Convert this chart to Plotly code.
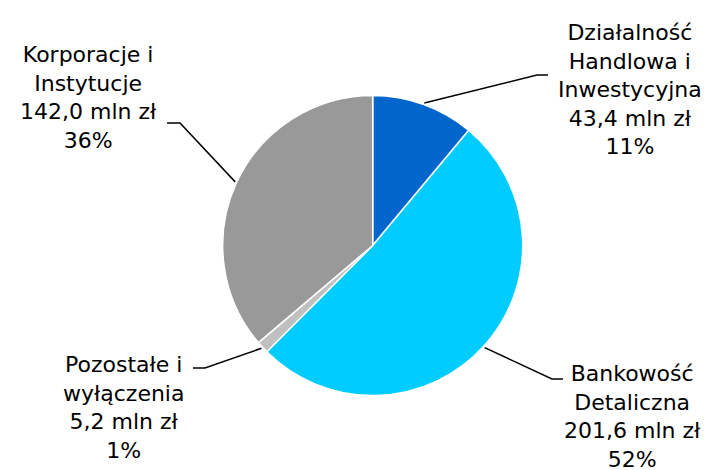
import numpy as np
import plotly.graph_objects as go

# Segment data (mln zł), shown as in the source report
segments = ['Działalność<br>Handlowa i<br>Inwestycyjna', 'Bankowość<br>Detaliczna',
            'Pozostałe i<br>wyłączenia', 'Korporacje i<br>Instytucje']
values = [43.4, 201.6, 5.2, 142.0]
value_labels = ['43,4 mln zł', '201,6 mln zł', '5,2 mln zł', '142,0 mln zł']
pct_labels = ['11%', '52%', '1%', '36%']
colors = ['#0066CC', '#00CCFF', '#C0C0C0', '#999999']

W, H = 711, 470
# pie placement in pixels (centre, radius)
cx, cy, R = 372.7, 245.5, 150

fig = go.Figure(go.Pie(
    labels=[s.replace('<br>', ' ') for s in segments],
    values=values,
    sort=False,
    direction='clockwise',
    rotation=0,
    marker=dict(colors=colors, line=dict(color='white', width=1.5)),
    textinfo='none',
    hoverinfo='label+value',
    showlegend=False,
    domain=dict(x=[(cx - R) / W, (cx + R) / W], y=[1 - (cy + R) / H, 1 - (cy - R) / H]),
))

# label positions: (text centre x, text centre y, elbow x, elbow y, end x) in pixels
label_pos = [
    (630, 89, 537, 75, 548),
    (632, 416, 552, 379, 563),
    (123, 407, 205, 368, 193),
    (88, 98, 180, 123, 167),
]

px = lambda x: x / W
py = lambda y: 1 - y / H

cum = np.cumsum([0] + values) / sum(values)
for i, (tx, ty, ex, ey, endx) in enumerate(label_pos):
    mid = (cum[i] + cum[i + 1]) / 2 * 2 * np.pi
    sx = cx + (R + 1.5) * np.sin(mid)
    sy = cy - (R + 1.5) * np.cos(mid)
    fig.add_shape(type='path', xref='paper', yref='paper',
                  path=f'M {px(sx)} {py(sy)} L {px(ex)} {py(ey)} L {px(endx)} {py(ey)}',
                  line=dict(color='black', width=1.5))
    fig.add_annotation(x=px(tx), y=py(ty), xref='paper', yref='paper',
                       text=f'{segments[i]}<br>{value_labels[i]}<br>{pct_labels[i]}',
                       showarrow=False, align='center', xanchor='center', yanchor='middle',
                       font=dict(family='DejaVu Sans', size=22, color='black'))

fig.update_layout(
    width=W, height=H,
    margin=dict(l=0, r=0, t=0, b=0),
    paper_bgcolor='white',
    plot_bgcolor='white',
)

# drop the default page margin so the figure sits at the window's corner
fig.write_html('out.html', config={'displayModeBar': False},
               post_script="document.body.style.margin='0';")
